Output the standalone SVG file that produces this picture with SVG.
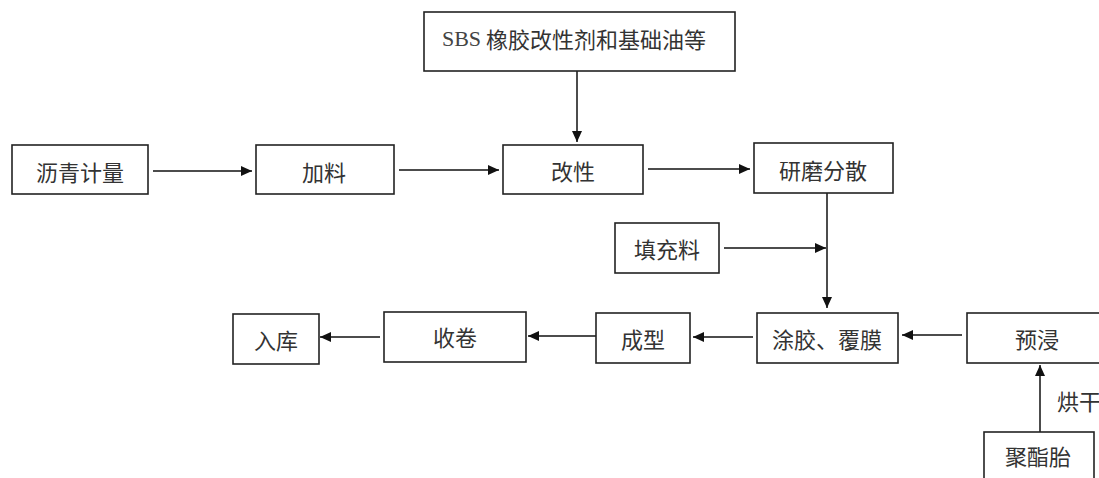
<svg xmlns="http://www.w3.org/2000/svg" width="1099" height="478" viewBox="0 0 1099 478">
<style>
.box rect{fill:#fff;stroke:#222;stroke-width:1.6}
text{font-family:"Noto Sans CJK SC","Noto Sans",sans-serif;font-size:22px;fill:#333;text-anchor:middle;dominant-baseline:central}
.ln{stroke:#111;stroke-width:1.5;fill:none}
</style>
<defs>
<marker id="ah" markerUnits="userSpaceOnUse" markerWidth="12" markerHeight="10" refX="11" refY="5" orient="auto">
<path d="M0,0 L11,5 L0,10 Z" fill="#111"/>
</marker>
</defs>
<rect width="1099" height="478" fill="#fff"/>
<g id="connectors">
<line class="ln" x1="577" y1="71" x2="577" y2="142" marker-end="url(#ah)"/>
<line class="ln" x1="153" y1="171" x2="252" y2="171" marker-end="url(#ah)"/>
<line class="ln" x1="399" y1="170" x2="499" y2="170" marker-end="url(#ah)"/>
<line class="ln" x1="648" y1="169" x2="750" y2="169" marker-end="url(#ah)"/>
<line class="ln" x1="827" y1="193" x2="827" y2="308" marker-end="url(#ah)"/>
<line class="ln" x1="724" y1="248" x2="826" y2="248" marker-end="url(#ah)"/>
<line class="ln" x1="962" y1="335" x2="902" y2="335" marker-end="url(#ah)"/>
<line class="ln" x1="753" y1="337" x2="693" y2="337" marker-end="url(#ah)"/>
<line class="ln" x1="596" y1="336" x2="528" y2="336" marker-end="url(#ah)"/>
<line class="ln" x1="380" y1="337" x2="320" y2="337" marker-end="url(#ah)"/>
<line class="ln" x1="1040" y1="432" x2="1040" y2="365" marker-end="url(#ah)"/>
</g>
<g id="n-sbs" class="box"><rect x="424" y="12" width="311" height="59"/>
<text x="574" y="38"><tspan font-family="Liberation Serif" fill="#444">SBS</tspan> 橡胶改性剂和基础油等</text></g>
<g id="n-liqing" class="box"><rect x="12" y="145" width="136" height="49"/><text x="80" y="171">沥青计量</text></g>
<g id="n-jialiao" class="box"><rect x="256" y="145" width="138" height="49"/><text x="324" y="171">加料</text></g>
<g id="n-gaixing" class="box"><rect x="503" y="145" width="140" height="49"/><text x="573" y="170">改性</text></g>
<g id="n-yanmo" class="box"><rect x="754" y="143" width="139" height="50"/><text x="823" y="169">研磨分散</text></g>
<g id="n-tianchong" class="box"><rect x="615" y="223" width="104" height="50"/><text x="667" y="248">填充料</text></g>
<g id="n-tujiao" class="box"><rect x="757" y="313" width="141" height="50"/><text x="827" y="338">涂胶、覆膜</text></g>
<g id="n-chengxing" class="box"><rect x="596" y="313" width="94" height="50"/><text x="643" y="338">成型</text></g>
<g id="n-shoujuan" class="box"><rect x="384" y="312" width="142" height="50"/><text x="455" y="336">收卷</text></g>
<g id="n-ruku" class="box"><rect x="233" y="314" width="86" height="50"/><text x="276" y="339">入库</text></g>
<g id="n-yujin" class="box"><rect x="967" y="313" width="142" height="50"/><text x="1037" y="338">预浸</text></g>
<g id="n-juzhi" class="box"><rect x="984" y="432" width="110" height="60"/><text x="1038" y="455">聚酯胎</text></g>
<text x="1057" y="400" style="text-anchor:start">烘干</text>
</svg>
